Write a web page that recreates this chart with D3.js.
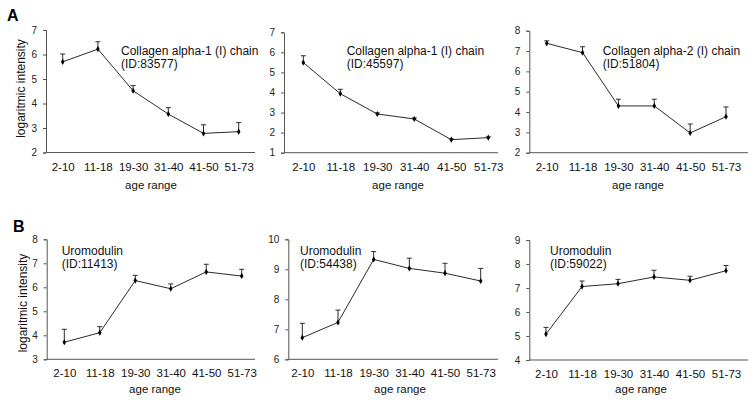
<!DOCTYPE html>
<html>
<head>
<meta charset="utf-8">
<script src="https://cdn.jsdelivr.net/npm/d3@7"></script>
<style>
  html, body { margin: 0; padding: 0; background: #fff; }
  svg { display: block; font-family: Arial, "Liberation Sans", sans-serif; }
</style>
</head>
<body>
<svg id="chart" width="755" height="406"></svg>
<script>
// ---------- data ----------
const categories = ["2-10", "11-18", "19-30", "31-40", "41-50", "51-73"];

const col1_83577 = [5.70, 6.22, 4.52, 3.57, 2.78, 2.85];
const col1_83577_err = [0.32, 0.30, 0.21, 0.26, 0.35, 0.37];

const col1_45597 = [5.49, 3.94, 2.93, 2.68, 1.65, 1.75];
const col1_45597_err = [0.34, 0.22, 0.05, 0.05, 0.04, 0.04];

const col2_51804 = [7.38, 6.92, 4.30, 4.30, 2.97, 3.77];
const col2_51804_err = [0.12, 0.29, 0.33, 0.33, 0.44, 0.48];

const umod_11413 = [3.71, 4.11, 6.28, 5.94, 6.64, 6.47];
const umod_11413_err = [0.54, 0.25, 0.22, 0.20, 0.32, 0.28];

const umod_54438 = [6.72, 7.23, 9.33, 9.03, 8.87, 8.61];
const umod_54438_err = [0.48, 0.41, 0.26, 0.34, 0.33, 0.42];

const umod_59022 = [5.08, 7.06, 7.18, 7.46, 7.32, 7.72];
const umod_59022_err = [0.28, 0.23, 0.18, 0.28, 0.17, 0.22];

const yTicksA1 = [2, 3, 4, 5, 6, 7];
const yTicksA2 = [1, 2, 3, 4, 5, 6, 7];
const yTicksA3 = [2, 3, 4, 5, 6, 7, 8];
const yTicksB1 = [3, 4, 5, 6, 7, 8];
const yTicksB2 = [6, 7, 8, 9, 10];
const yTicksB3 = [4, 5, 6, 7, 8, 9];

const titleLines = {
  a1: ["Collagen alpha-1 (I) chain", "(ID:83577)"],
  a2: ["Collagen alpha-1 (I) chain", "(ID:45597)"],
  a3: ["Collagen alpha-2 (I) chain", "(ID:51804)"],
  b1: ["Uromodulin", "(ID:11413)"],
  b2: ["Uromodulin", "(ID:54438)"],
  b3: ["Uromodulin", "(ID:59022)"]
};

const xTitle = "age range";
const yTitle = "logaritmic intensity";

// ---------- layout ----------
const panels = [
  { key: "a1", vals: col1_83577, err: col1_83577_err, ticks: yTicksA1,
    ax: 46, top: 30, bottom: 152.5, right: 255, p0: 62.7, p1: 238.7, tx: 121, ty: 55, xt: 151, xtb: 189 },
  { key: "a2", vals: col1_45597, err: col1_45597_err, ticks: yTicksA2,
    ax: 284, top: 32.3, bottom: 152.7, right: 498, p0: 303.3, p1: 488.3, tx: 346.7, ty: 55, xt: 398, xtb: 189 },
  { key: "a3", vals: col2_51804, err: col2_51804_err, ticks: yTicksA3,
    ax: 529.3, top: 30.7, bottom: 152.7, right: 748, p0: 546.7, p1: 726, tx: 602.7, ty: 55, xt: 638, xtb: 189 },
  { key: "b1", vals: umod_11413, err: umod_11413_err, ticks: yTicksB1,
    ax: 46.7, top: 239.3, bottom: 359.3, right: 255, p0: 64.3, p1: 241.7, tx: 61.7, ty: 255, xt: 155, xtb: 393 },
  { key: "b2", vals: umod_54438, err: umod_54438_err, ticks: yTicksB2,
    ax: 288.3, top: 239.3, bottom: 359.3, right: 498, p0: 302.3, p1: 480.7, tx: 300, ty: 255, xt: 400, xtb: 393 },
  { key: "b3", vals: umod_59022, err: umod_59022_err, ticks: yTicksB3,
    ax: 529.3, top: 240, bottom: 360, right: 748, p0: 546, p1: 726, tx: 550, ty: 255, xt: 641, xtb: 393 }
];

const svg = d3.select("#chart");
const lineColor = "#2b2b2b";
const axisColor = "#555";

panels.forEach(p => {
  const g = svg.append("g");
  const x = d3.scalePoint().domain(categories).range([p.p0, p.p1]);
  const y = d3.scaleLinear().domain(d3.extent(p.ticks)).range([p.bottom, p.top]);

  // y axis
  const yAxis = d3.axisLeft(y).tickValues(p.ticks).tickSize(3).tickPadding(6).tickFormat(d3.format("d"));
  const ya = g.append("g").attr("transform", `translate(${p.ax},0)`).call(yAxis);
  ya.select(".domain").attr("stroke", axisColor).attr("stroke-width", 1);
  ya.selectAll(".tick line").attr("stroke", axisColor);
  ya.selectAll(".tick text").attr("font-size", 10).attr("fill", "#222")
    .attr("font-family", "Arial, 'Liberation Sans', sans-serif");

  // x axis line
  g.append("line").attr("x1", p.ax).attr("x2", p.right)
    .attr("y1", p.bottom).attr("y2", p.bottom)
    .attr("stroke", axisColor).attr("stroke-width", 1);

  // x axis labels
  const xAxis = d3.axisBottom(x).tickSize(0).tickPadding(10);
  const xa = g.append("g").attr("transform", `translate(0,${p.bottom})`).call(xAxis);
  xa.select(".domain").remove();
  xa.selectAll(".tick text").attr("font-size", 11.5).attr("fill", "#111")
    .attr("font-family", "Arial, 'Liberation Sans', sans-serif");

  const data = categories.map((c, i) => ({ c, v: p.vals[i], e: p.err[i] }));

  // error bars (upper only)
  const eb = g.append("g").attr("stroke", lineColor).attr("stroke-width", 1);
  data.forEach(d => {
    eb.append("line").attr("x1", x(d.c)).attr("x2", x(d.c))
      .attr("y1", y(d.v)).attr("y2", y(d.v + d.e));
    eb.append("line").attr("x1", x(d.c) - 2.5).attr("x2", x(d.c) + 2.5)
      .attr("y1", y(d.v + d.e)).attr("y2", y(d.v + d.e));
  });

  // line
  g.append("path").datum(data)
    .attr("fill", "none").attr("stroke", lineColor).attr("stroke-width", 1)
    .attr("d", d3.line().x(d => x(d.c)).y(d => y(d.v)));

  // markers (diamonds)
  g.selectAll("path.mk").data(data).enter().append("path")
    .attr("class", "mk")
    .attr("d", d3.symbol().type(d3.symbolDiamond).size(11))
    .attr("transform", d => `translate(${x(d.c)},${y(d.v)})`)
    .attr("fill", "#000");

  // annotation
  const t = g.append("text").attr("x", p.tx).attr("y", p.ty)
    .attr("font-size", 12).attr("fill", "#111");
  titleLines[p.key].forEach((s, i) => {
    t.append("tspan").attr("x", p.tx).attr("dy", i === 0 ? 0 : 13).text(s);
  });

  // x title
  g.append("text").attr("x", p.xt).attr("y", p.xtb)
    .attr("text-anchor", "middle").attr("font-size", 11.5).attr("fill", "#111")
    .text(xTitle);
});

// y titles
svg.append("text").attr("transform", "translate(25,88.5) rotate(-90)")
  .attr("text-anchor", "middle").attr("font-size", 12).attr("fill", "#111").text(yTitle);
svg.append("text").attr("transform", "translate(27,303) rotate(-90)")
  .attr("text-anchor", "middle").attr("font-size", 12).attr("fill", "#111").text(yTitle);

// panel letters
svg.append("text").attr("x", 7).attr("y", 21).attr("font-size", 16).attr("font-weight", "bold").attr("fill", "#000").text("A");
svg.append("text").attr("x", 13).attr("y", 232).attr("font-size", 16).attr("font-weight", "bold").attr("fill", "#000").text("B");
</script>
</body>
</html>
